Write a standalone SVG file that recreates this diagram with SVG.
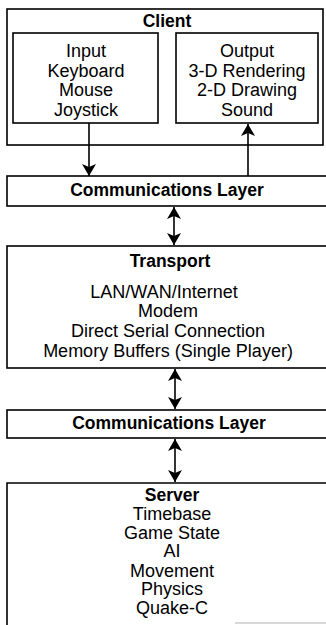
<svg xmlns="http://www.w3.org/2000/svg" width="326" height="625" viewBox="0 0 326 625">
  <style>
    .box { fill: none; stroke: #000; stroke-width: 1.6; }
    .wire { fill: none; stroke: #000; stroke-width: 1.6; }
    .title { font-family: "Liberation Sans", Arial, sans-serif; font-weight: bold; font-size: 17.5px; text-anchor: middle; fill: #000; }
    .item { font-family: "Liberation Sans", Arial, sans-serif; font-size: 18px; text-anchor: middle; fill: #000; }
  </style>
  <defs>
    <marker id="head" markerUnits="userSpaceOnUse" markerWidth="16" markerHeight="16" viewBox="-13 -8 16 16" refX="0" refY="0" orient="auto-start-reverse">
      <path d="M0,0 L-12,-7 L-9,0 L-12,7 Z" fill="#000"/>
    </marker>
  </defs>
  <rect width="326" height="625" fill="#fff"/>

  <!-- client block with its two sub-panels -->
  <g id="client">
    <rect class="box" x="7" y="9" width="316" height="136"/>
    <text class="title" x="167" y="27">Client</text>
  </g>
  <g id="input">
    <rect class="box" x="13" y="33" width="145" height="90"/>
    <text class="item" x="86" y="57">Input</text>
    <text class="item" x="86" y="76.5">Keyboard</text>
    <text class="item" x="86" y="96">Mouse</text>
    <text class="item" x="86" y="115.5">Joystick</text>
  </g>
  <g id="output">
    <rect class="box" x="176" y="33" width="142" height="90"/>
    <text class="item" x="247" y="57">Output</text>
    <text class="item" x="247" y="76.5">3-D Rendering</text>
    <text class="item" x="247" y="96">2-D Drawing</text>
    <text class="item" x="247" y="115.5">Sound</text>
  </g>

  <!-- upper communications layer -->
  <g id="comm-upper">
    <rect class="box" x="7" y="176" width="340" height="30"/>
    <text class="title" x="167" y="196">Communications Layer</text>
  </g>

  <!-- transport layer -->
  <g id="transport">
    <rect class="box" x="7" y="246" width="340" height="122"/>
    <text class="title" x="170" y="267">Transport</text>
    <text class="item" x="164" y="298">LAN/WAN/Internet</text>
    <text class="item" x="168" y="317">Modem</text>
    <text class="item" x="168" y="337">Direct Serial Connection</text>
    <text class="item" x="168" y="357">Memory Buffers (Single Player)</text>
  </g>

  <!-- lower communications layer -->
  <g id="comm-lower">
    <rect class="box" x="7" y="410" width="340" height="28"/>
    <text class="title" x="169" y="429">Communications Layer</text>
  </g>

  <!-- server block, open at the bottom -->
  <g id="server">
    <path class="box" d="M7,626 V483 H330"/>
    <text class="title" x="172" y="501">Server</text>
    <text class="item" x="172" y="520">Timebase</text>
    <text class="item" x="172" y="539">Game State</text>
    <text class="item" x="172" y="557">AI</text>
    <text class="item" x="172" y="577">Movement</text>
    <text class="item" x="172" y="595">Physics</text>
    <text class="item" x="172" y="614">Quake-C</text>
    <line x1="235" y1="623" x2="326" y2="623" stroke="#d8d8d8" stroke-width="2"/>
  </g>

  <!-- connectors -->
  <g id="connectors">
    <line class="wire" x1="89" y1="123" x2="89" y2="176" marker-end="url(#head)"/>
    <line class="wire" x1="248" y1="176" x2="248" y2="124" marker-end="url(#head)"/>
    <line class="wire" x1="174" y1="207" x2="174" y2="245" marker-start="url(#head)" marker-end="url(#head)"/>
    <line class="wire" x1="175" y1="369" x2="175" y2="409" marker-start="url(#head)" marker-end="url(#head)"/>
    <line class="wire" x1="175" y1="439" x2="175" y2="482" marker-start="url(#head)" marker-end="url(#head)"/>
  </g>
</svg>
